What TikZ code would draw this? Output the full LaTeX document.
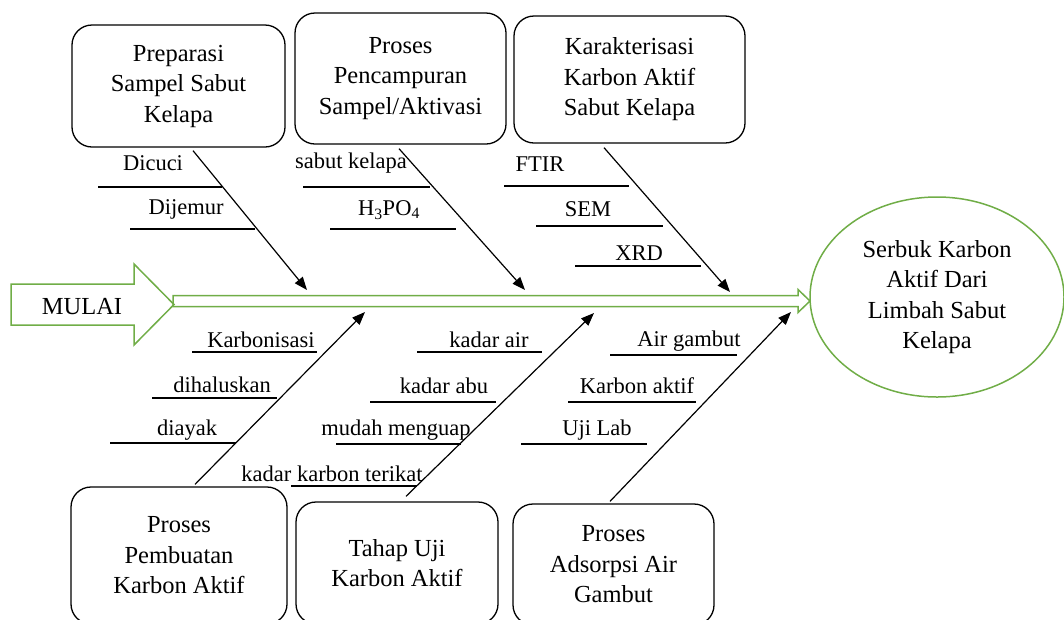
\documentclass[tikz,border=0pt]{standalone}
\usepackage{fontspec}
\setmainfont{Liberation Serif}
\usetikzlibrary{arrows.meta,shapes.geometric}
\definecolor{leafgreen}{RGB}{112,173,71}

\begin{document}
\begin{tikzpicture}[x=1pt, y=-1pt,
    box/.style={draw, rounded corners=20pt, line width=1.3pt, align=center, inner sep=2pt,
        font=\fontsize{24.5}{30.5}\selectfont},
    bone/.style={line width=1.2pt, -{Triangle[length=13pt,width=10pt]}},
    item/.style={inner sep=0pt, font=\fontsize{22.5}{27}\selectfont}]
    \useasboundingbox (0,0) rectangle (1064,619);
    % Result (head)
    \node[draw=leafgreen, line width=1.5pt, ellipse, minimum width=254, minimum height=200,
        align=center, font=\fontsize{24.5}{30.5}\selectfont] (result) at (937,297)
        {Serbuk Karbon\\Aktif Dari\\Limbah Sabut\\Kelapa};
    % Spine
    \draw[leafgreen, line width=1.5pt] (173,295.5) -- (798,295.5) -- (798,289.5) -- (810,301)
        -- (798,312.5) -- (798,306.5) -- (173,306.5) -- cycle;
    % Start arrow
    \draw[leafgreen, line width=1.5pt] (11,284) -- (134,284) -- (134,264) -- (174,304.5)
        -- (134,345) -- (134,325) -- (11,325) -- cycle;
    \node[font=\fontsize{24.5}{30.5}\selectfont] (mulai) at (82,307) {MULAI};
    % Cause boxes
    \node[box, minimum width=213, minimum height=122] (prep) at (178.5,86) {Preparasi\\Sampel Sabut\\Kelapa};
    \node[box, minimum width=211, minimum height=131] (mix) at (400.5,78.5) {Proses\\Pencampuran\\Sampel/Aktivasi};
    \node[box, minimum width=231, minimum height=127] (char) at (629.5,79.5) {Karakterisasi\\Karbon Aktif\\Sabut Kelapa};
    \node[box, minimum width=216, minimum height=137] (make) at (179,555.5) {Proses\\Pembuatan\\Karbon Aktif};
    \node[box, minimum width=202, minimum height=122] (test) at (397,563) {Tahap Uji\\Karbon Aktif};
    \node[box, minimum width=201, minimum height=121] (ads) at (613.5,564.5) {Proses\\Adsorpsi Air\\Gambut};
    % Bones
    \coordinate (jA) at (307,290);
    \coordinate (jB) at (525,290);
    \coordinate (jC) at (730,292);
    \coordinate (jD) at (365,312);
    \coordinate (jE) at (594,313);
    \coordinate (jF) at (791,312);
    \draw[bone] ([xshift=14.5pt,yshift=-3pt]prep.south) -- (jA);
    \draw[bone] ([xshift=-1.5pt,yshift=-4pt]mix.south) -- (jB);
    \draw[bone] ([xshift=-25.5pt,yshift=-4pt]char.south) -- (jC);
    \draw[bone] ([xshift=16pt,yshift=2pt]make.north) -- (jD);
    \draw[bone] ([xshift=9pt,yshift=5pt]test.north) -- (jE);
    \draw[bone] ([xshift=-3.5pt,yshift=2pt]ads.north) -- (jF);
    % Sub-causes
    \foreach \nm/\tx/\ty/\la/\lb/\ly/\txt in {
        dicuci/153/163/98/222/187/Dicuci,
        dijemur/186/209/130/255/229/Dijemur,
        sabut/351/163/303/430/187/sabut kelapa,
        asam/389/210/330/456/229/H\textsubscript{3}PO\textsubscript{4},
        ftir/540/164/504/629/186/FTIR,
        sem/588/209/536/663/226/SEM,
        xrd/639/253/575/701/266/XRD,
        karbonisasi/261/340/192/317/352/Karbonisasi,
        halus/222/385/152/277/398/dihaluskan,
        ayak/187/430/110/236/443/diayak,
        air/489/340/417/542/352/kadar air,
        abu/444/386/370/496/402/kadar abu,
        uap/396/430/336/461/444/mudah menguap,
        terikat/332/474/291/417/486/kadar karbon terikat,
        gambut/689/341/610/737/355/Air gambut,
        aktif/637/386/568/696/402/Karbon aktif,
        lab/597/430/521/647/444/Uji Lab}{
        \node[item] (\nm) at (\tx,\ty) {\txt};
        \draw[line width=1.2pt] (\la,\ly) -- (\lb,\ly);
    }
\end{tikzpicture}
\end{document}
